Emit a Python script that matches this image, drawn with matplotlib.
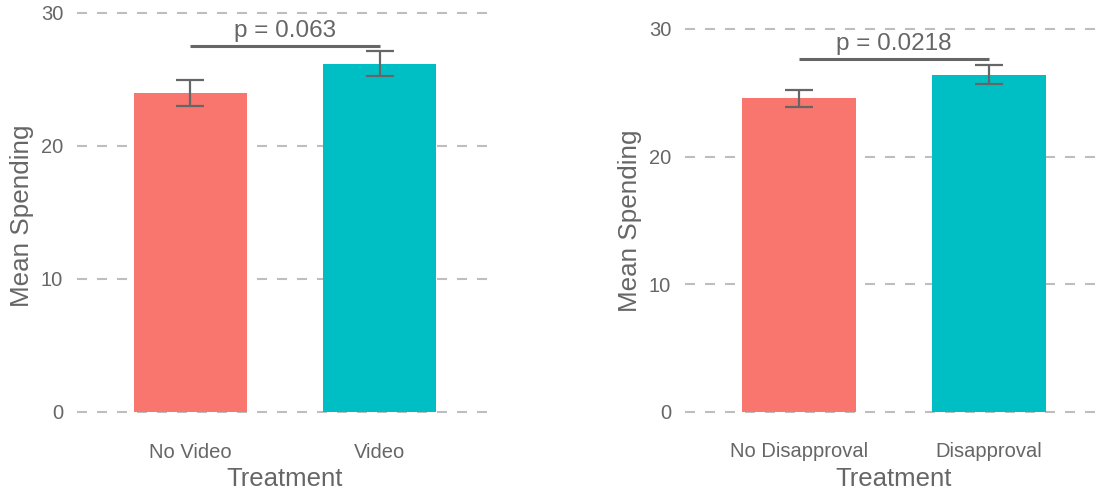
import matplotlib
matplotlib.use("Agg")
import matplotlib.pyplot as plt

plt.rcParams['font.family'] = ['Liberation Sans', 'DejaVu Sans']

# Data
left_categories = ["No Video", "Video"]
left_means = [23.97, 26.15]
left_errors = [0.99, 0.94]
left_p_label = "p = 0.063"
left_sig_y = 27.47

right_categories = ["No Disapproval", "Disapproval"]
right_means = [24.56, 26.43]
right_errors = [0.68, 0.75]
right_p_label = "p = 0.0218"
right_sig_y = 27.62

bar_colors = ["#F8766D", "#00BFC4"]
yticks = [0, 10, 20, 30]

TEXT = "#666666"
ERR = "#666666"
GRID = "#BEBEBE"

W, H = 1104, 496
fig = plt.figure(figsize=(W / 100, H / 100), dpi=100)


def make_axes(x0, x1, ytop_px, ybot_px):
    return fig.add_axes([x0 / W, 1 - ybot_px / H, (x1 - x0) / W, (ybot_px - ytop_px) / H])


def draw_panel(ax, cats, means, errs, plabel, sig_y, ylim):
    xs = [1, 2]
    ax.set_xlim(0.4, 2.6)
    ax.set_ylim(*ylim)
    for y in yticks:
        ax.axhline(y, color=GRID, lw=1.5, linestyle=(0, (4.8, 4.8)), zorder=0)
    ax.bar(xs, means, width=0.6, color=bar_colors, zorder=2)
    ax.errorbar(xs, means, yerr=errs, fmt="none", ecolor=ERR, elinewidth=1.6,
                capsize=10, capthick=1.6, zorder=3)
    ax.plot([xs[0], xs[1]], [sig_y, sig_y], color=ERR, lw=2.2, zorder=3,
            solid_capstyle="butt")
    ax.text((xs[0] + xs[1]) / 2, sig_y + 0.35, plabel, ha="center", va="bottom",
            fontsize=17.5, color=TEXT)
    ax.set_xticks(xs)
    ax.set_xticklabels(cats)
    ax.set_yticks(yticks)
    ax.tick_params(axis="both", length=0, labelsize=14.5, labelcolor=TEXT)
    ax.tick_params(axis="y", pad=10)
    ax.tick_params(axis="x", pad=8)
    for s in ax.spines.values():
        s.set_visible(False)
    ax.set_xlabel("Treatment", fontsize=18.5, color=TEXT, labelpad=4)
    ax.set_ylabel("Mean Spending", fontsize=18.7, color=TEXT, labelpad=4.5)
    ax.set_facecolor("white")


ax1 = make_axes(77, 493, 411.7 - 31 * 13.3, 411.7 + 1.5 * 13.3)
draw_panel(ax1, left_categories, left_means, left_errors, left_p_label, left_sig_y, (-1.5, 31))

ax2 = make_axes(685, 1103, 411.7 - 31.5 * 12.757, 411.7 + 1.5 * 12.757)
draw_panel(ax2, right_categories, right_means, right_errors, right_p_label, right_sig_y, (-1.5, 31.5))

fig.savefig("out.png", dpi=100, facecolor="white")
